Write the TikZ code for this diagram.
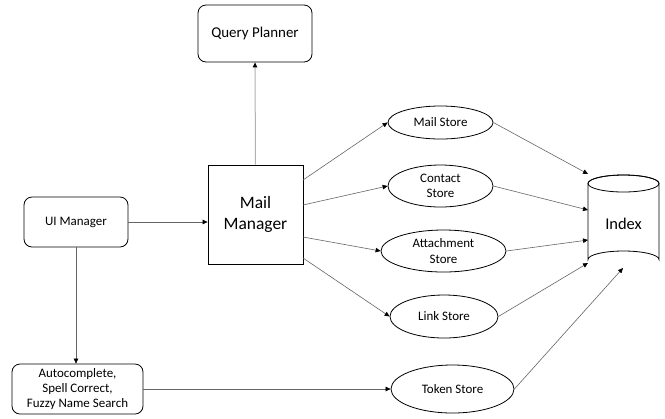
\documentclass[tikz,border=0pt]{standalone}
\usepackage{fontspec}
\setmainfont{Carlito}
\usetikzlibrary{arrows.meta,shapes.geometric,calc}
\begin{document}
\begin{tikzpicture}[x=1bp,y=-1bp,
  box/.style={draw=black,line width=0.8bp,rounded corners=8bp,align=center,inner sep=0pt,font=\fontsize{13}{15.5}\selectfont},
  oval/.style={draw=black,line width=0.8bp,ellipse,align=center,inner sep=0pt,font=\fontsize{13}{15.5}\selectfont},
  conn/.style={draw=black!60,line width=0.6bp,-{Triangle[length=5bp,width=4.5bp,color=black]}},
  qconn/.style={draw=black!30,line width=1bp,-{Triangle[length=5bp,width=4.5bp,color=black]}}
]
\useasboundingbox (0,0) rectangle (665,418);
\fill[white] (0,0) rectangle (665,418);

\node[box,minimum width=114bp,minimum height=57bp,font=\fontsize{15}{18}\selectfont] (qp) at (255,33.5) {Query Planner};
\node[draw=black,line width=0.8bp,minimum width=95bp,minimum height=99bp,inner sep=0pt,align=center,font=\fontsize{17.5}{21.5}\selectfont] (mm) at (255.5,214.5) {Mail\\Manager};
\node[box,minimum width=104bp,minimum height=50bp] (ui) at (76,222) {UI Manager};
\node[box,minimum width=131bp,minimum height=50bp] (ac) at (77.5,389) {Autocomplete,\\Spell Correct,\\Fuzzy Name Search};

\node[oval,minimum width=105bp,minimum height=33bp] (ms) at (440.5,122.5) {Mail Store};
\node[oval,minimum width=105bp,minimum height=42bp] (cs) at (440.5,186) {Contact\\Store};
\node[oval,minimum width=125bp,minimum height=42bp] (as) at (443.5,251) {Attachment\\Store};
\node[oval,minimum width=108bp,minimum height=43bp] (ls) at (444,316.5) {Link Store};
\node[oval,minimum width=123bp,minimum height=48bp] (ts) at (452.5,389) {Token Store};

% Index cylinder
\draw[line width=0.8bp,fill=white] (588,183.5) -- (588,259.5) arc[start angle=180,end angle=360,x radius=35.5bp,y radius=-8.5bp] -- (659,183.5) arc[start angle=0,end angle=-180,x radius=35.5bp,y radius=-8.5bp];
\draw[line width=0.8bp] (623.5,183.5) ellipse[x radius=35.5bp,y radius=8.5bp];
\node[minimum width=71bp,minimum height=93bp,inner sep=0pt,font=\fontsize{16.5}{20}\selectfont] (idx) at (623.5,224) {Index};

\coordinate (i1) at (588,174);
\coordinate (i2) at (588,210);
\coordinate (i3) at (588,240);
\coordinate (i4) at (588,263);
\coordinate (i5) at (623,268);

\coordinate (m1) at (303,180);
\coordinate (m2) at (303,205);
\coordinate (m3) at (303,237);
\coordinate (m4) at (303,258);

\draw[qconn] (mm.north) -- (qp.south);
\draw[conn] (ui.east) -- (mm.west |- ui.east);
\draw[conn] (ui.south) -- (ui.south |- ac.north);
\draw[conn] (ac.east) -- (ts.west);

\draw[conn] (m1) -- (ms.west);
\draw[conn] (m2) -- (cs.west);
\draw[conn] (m3) -- (as.west);
\draw[conn] (m4) -- (ls.west);

\draw[conn] (ms.east) -- (i1);
\draw[conn] (cs.east) -- (i2);
\draw[conn] (as.east) -- (i3);
\draw[conn] (ls.east) -- (i4);
\draw[conn] (ts.east) -- (i5);
\end{tikzpicture}
\end{document}
